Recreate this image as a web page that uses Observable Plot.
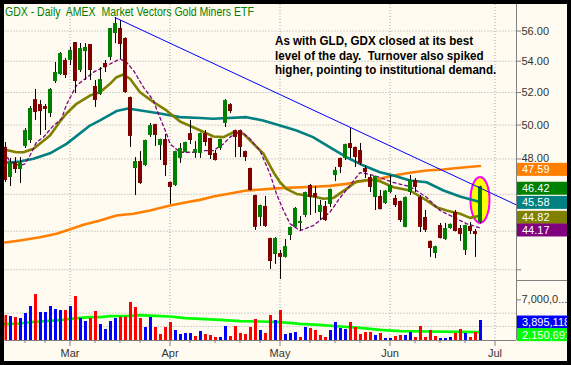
<!DOCTYPE html>
<html><head><meta charset="utf-8">
<script src="https://cdn.jsdelivr.net/npm/d3@7"></script>
<script src="https://cdn.jsdelivr.net/npm/@observablehq/plot@0.6"></script>
<style>
html,body{margin:0;padding:0;background:#fffbf0;}
#wrap{position:relative;width:571px;height:365px;background:#fffbf0;overflow:hidden;font-family:"Liberation Sans",Arial,sans-serif;}
#wrap svg{position:absolute;left:0;}
#frame{position:absolute;left:0;top:0;width:571px;height:365px;box-sizing:border-box;border:4px solid #000;pointer-events:none;}
#title{position:absolute;left:5px;top:6px;font:12px/12px "Liberation Sans",Arial,sans-serif;color:#008000;white-space:pre;transform:scaleX(0.876);transform-origin:0 0;}
#note{position:absolute;left:275px;top:34px;font:bold 12.5px/14.5px "Liberation Sans",Arial,sans-serif;color:#000;white-space:pre;transform:scaleX(0.929);transform-origin:0 0;}
</style></head>
<body><div id="wrap"></div>
<script>
// ---- data (trading-day index 0..95) ----
const open  = [48.67,46.94,47.79,47.39,48.73,49.08,51.56,51.25,51.13,50.70, 52.69,53.14,54.05,54.05,55.23,53.40,54.63,55.10,52.38,51.88, 53.85,54.24,55.83,56.17,55.50,51.69,47.45,47.85,47.62,49.38, 50.03,48.78,49.14,46.66,46.49,48.03,48.37,49.49,48.32,48.32, 49.49,49.20,48.32,48.61,50.10,51.25,49.67,49.67,48.43,47.45, 45.93,44.73,45.33,43.61,42.78,42.83,42.63,43.77,44.20,44.41, 44.84,46.49,46.04,45.00,45.33,45.44,47.05,48.03,48.03,48.90, 48.67,48.49,47.45,46.94,45.82,45.88,45.49,46.10,45.77,45.60, 44.20,46.10,46.77,45.82,44.73,43.46,42.83,44.30,43.56,44.14, 45.00,44.14,42.99,44.25,43.98,44.46];
const high  = [48.96,48.03,48.08,48.08,49.79,51.13,52.19,51.50,51.25,52.25, 53.92,54.57,54.18,54.90,55.23,55.16,55.16,55.10,52.76,53.59, 54.05,56.17,56.92,56.71,55.55,51.72,48.08,48.43,49.10,50.10, 50.05,49.16,49.44,46.68,48.45,48.90,48.98,50.28,49.02,49.52, 49.67,49.22,48.49,49.16,51.56,51.31,49.70,49.70,48.45,47.47, 45.95,45.40,45.88,43.63,43.66,42.99,43.56,44.22,45.27,44.78, 46.12,46.55,46.43,45.66,45.60,46.29,47.51,48.05,48.86,49.85, 48.69,48.90,47.62,47.05,47.02,46.21,46.21,47.05,45.93,45.62, 45.85,47.05,46.88,45.93,45.11,43.48,43.21,44.41,44.41,44.38, 45.11,44.30,44.32,44.46,44.09,46.45];
const low   = [46.66,46.43,47.17,46.60,48.61,48.90,50.28,49.38,49.67,50.46, 52.57,53.08,52.89,53.72,51.94,53.27,52.76,52.76,51.07,51.81, 53.27,54.05,55.16,54.11,51.95,48.67,45.93,46.55,47.56,49.26, 48.73,47.91,47.00,45.44,46.43,47.74,48.35,48.84,48.03,48.03, 48.73,47.97,47.88,48.49,49.85,50.70,48.08,48.08,47.85,46.18, 44.04,44.25,44.20,42.01,42.27,41.51,42.60,43.51,44.18,44.04, 44.73,44.84,44.95,44.57,44.52,45.27,46.71,47.17,47.91,48.03, 47.51,47.62,46.88,46.10,45.11,45.14,45.44,46.04,45.27,44.46, 44.18,45.93,46.10,43.93,43.93,42.63,42.57,43.59,43.51,44.10, 43.96,43.46,42.73,43.82,42.63,44.40];
const close = [46.77,47.79,47.39,47.79,49.67,51.01,50.76,50.82,50.95,52.19, 53.27,54.50,53.08,54.70,52.69,54.83,54.90,53.40,51.50,52.82, 53.59,56.17,56.51,55.10,52.00,49.32,47.85,46.60,49.08,49.97, 49.38,49.14,47.62,46.38,48.43,48.61,48.96,49.08,48.55,49.49, 48.96,48.20,47.91,49.14,51.50,50.82,49.26,48.67,48.08,46.21, 44.20,45.38,44.25,42.42,43.61,42.63,43.19,44.20,45.22,44.52, 46.10,45.82,45.82,45.38,44.57,46.27,47.34,47.51,48.84,48.61, 48.08,47.74,47.22,46.38,47.00,45.16,46.18,46.49,45.38,44.57, 45.82,46.77,46.38,44.20,44.04,43.09,43.19,43.61,44.14,44.36, 43.98,43.82,44.30,43.98,43.82,46.42];
const volume = [4650000,4500000,4350000,4200000,4950000,6000000,7800000,5100000,5100000,6000000, 5550000,5400000,5400000,6000000,7500000,4200000,3750000,4200000,5250000,3300000, 2550000,3750000,4200000,4400000,4400000,6600000,5850000,4200000,2850000,4350000, 2850000,1800000,2850000,3600000,2400000,1800000,1950000,1950000,1500000,2250000, 1800000,1650000,1350000,1350000,3000000,1500000,3000000,1950000,1800000,2850000, 4050000,2400000,1950000,4650000,3900000,5400000,1800000,1950000,2100000,1350000, 2850000,2700000,2400000,1650000,1350000,2400000,3600000,2700000,2550000,3600000, 2850000,1800000,2100000,2100000,1650000,1950000,1200000,1200000,1500000,1650000, 1650000,2100000,1350000,3000000,1350000,2400000,1500000,1200000,1200000,1350000, 1950000,2550000,1950000,1350000,2100000,3895118];
const volUp = [0,1,0,1,1,1,0,1,1,1, 1,1,0,1,0,1,1,0,0,1, 1,1,1,0,0,0,0,0,1,1, 0,0,0,0,1,1,1,1,0,1, 0,0,0,1,1,0,0,0,0,0, 0,1,0,0,1,0,1,1,1,0, 1,0,0,0,0,1,1,1,1,0, 0,0,0,0,1,0,1,1,0,0, 1,1,0,0,0,0,0,1,1,1, 0,0,1,0,0,1];

// moving averages (index, value)
const ma200Idx = [0,3,7,10.3,12.3,15.7,19,22.3,25.7,29,33,36.3,39,41.7,48.3,55,61.7,65,68.3,71,75,77.7,81,84.3,87.6,91,95];
const ma200    = [43.40,43.51,43.68,43.86,44.04,44.34,44.57,44.84,44.93,45.11,45.38,45.56,45.69,45.88,46.21,46.34,46.42,46.47,46.58,46.71,46.87,47.05,47.21,47.34,47.39,47.49,47.59];
const ma50Idx  = [0,3,5.7,9,12.3,17,19,22.3,24.6,31,35,39,41.6,48.3,51.6,55,58.3,61.6,65,68.3,71.7,75,77.7,81,84.3,87.7,91,95];
const ma50     = [47.78,47.85,48.01,48.33,48.88,49.97,50.28,50.85,51.01,50.70,50.48,50.43,50.38,50.48,50.28,49.97,49.67,49.28,48.68,48.10,47.62,47.24,47.05,46.77,46.67,46.21,45.88,45.58];
const ma20Idx  = [0,2.3,3.7,5.7,9,11,12.3,14.3,17,19,21,22.3,23.7,25,27,29.7,32.3,35,38.3,41.7,43.7,45.7,47.7,49.7,51.7,53.7,55,56.3,58.3,61.7,63.7,65.7,68.3,70.3,73,75,77.7,81,84.3,86.3,88.3,91,93,95];
const ma20     = [48.53,48.39,48.39,48.59,49.38,50.22,50.70,51.30,51.81,52.02,52.55,52.97,53.14,52.87,52.02,51.40,50.89,50.22,49.78,49.32,49.28,49.57,49.48,48.88,48.30,47.24,46.67,46.30,46.02,45.88,45.75,45.80,46.30,46.71,46.81,46.73,46.39,46.21,45.66,45.29,45.11,44.93,44.71,44.82];
const ma10Idx  = [0,1,3,4,5,6.3,7.7,9.7,11.3,12.3,14.3,17.7,19.7,21.7,23,24.3,25.7,27.7,29.7,30.4,32.3,33,35,37.7,39.7,41.7,43.7,45,47,49,51,53,54.3,55.7,57,59,61.7,65,67,69,71,73,75,77.6,81,84.3,87,89.7,92.3,95];
const ma10     = [48.39,47.81,47.62,47.72,48.20,48.98,49.28,49.97,50.38,51.25,52.44,53.29,53.61,53.93,54.15,53.93,53.40,52.33,51.50,50.89,49.50,48.88,48.39,48.39,48.49,48.49,48.88,49.28,49.67,49.18,48.49,47.15,46.02,45.11,44.40,44.03,44.30,45.02,45.80,46.49,47.22,47.11,46.94,46.66,46.43,45.84,45.11,44.75,44.40,44.17];
const volMaIdx = [0,3,5,7,9,11,13,15,17,19,21,25,27,30,33,36,39,43,47,51,55,59,63,67,71,75,79,85,91,95];
const volMa    = [3350000,3450000,3650000,3750000,3850000,3950000,4150000,4300000,4400000,4400000,4550000,4600000,4700000,4600000,4500000,4250000,4150000,4000000,3800000,3750000,3650000,3400000,3250000,3000000,2800000,2500000,2300000,2250000,2200000,2150691];

// trendline anchor points and highlight
const trendIdx = [22, 102.3];
const trendVal = [56.92, 45.41];
const highlightIdx = 95, highlightVal = 45.66;

// axes / labels
const priceTicks = [56,54,52,50,48,46,44,42];
const priceLabels = ["56.00","54.00","52.00","50.00","48.00","","",""];
const priceGrid  = [56,54,52,50,48,46,44,42];
const monthIdx   = [13,33,55,77,98];
const monthNames = ["Mar","Apr","May","Jun","Jul"];
const minorIdx   = [4,8,18,23,27,37,42,47,51,61,66,71,82,87,92];
const volGrid    = [5000000,3000000];
const volTicks   = [7000000];
const volTickLabels = ["7,000,0..."];
const lastPrice  = [47.59,46.42,45.58,44.82,44.17];
const lastPriceColors = ["#ff8000","#008000","#008080","#808000","#800080"];
const lastVol    = [3895118,2150691];
const lastVolColors = ["#0000ff","#00ff00"];

// ---- build rows ----
const bars = open.map((o,i)=>({i, o, h:high[i], l:low[i], c:close[i]}));
const upBars = bars.filter(d=>d.c>=d.o), dnBars = bars.filter(d=>d.c<d.o);
const vrows = volume.map((v,i)=>({i, v, up:volUp[i]}));
const pts = (xs, ys) => xs.map((x,k)=>({i:x, p:ys[k]}));
const xDomain = [0, 102.3];
const gridColor = "#a8a8a8";
const font = "'Liberation Sans', Arial, sans-serif";

// label boxes on the right axis (nudges keep the stacked boxes apart)
function valueBoxes(vals, colors, fmt, nudges) {
  return (index, scales, values, dims) => {
    const g = d3.create("svg:g").attr("text-anchor", "start");
    const x0 = dims.width - dims.marginRight + 1;
    vals.forEach((v,k) => {
      const cy = scales.y(v) + nudges[k];
      g.append("rect").attr("x", x0).attr("y", cy-6.5).attr("width", dims.marginRight).attr("height", 13).attr("fill", colors[k]);
      g.append("text").attr("x", x0+5).attr("y", cy+4).attr("text-anchor", "start").attr("fill", "#fff")
        .attr("font-size", 11).attr("font-family", font).text(fmt(v));
    });
    return g.node();
  };
}

const price = Plot.plot({
  width: 571, height: 281,
  marginLeft: 4.5, marginRight: 55, marginTop: 4, marginBottom: 1,
  style: {background: "transparent", fontFamily: font, fontSize: "11px", overflow: "visible"},
  x: {domain: xDomain, axis: null},
  y: {type: "log", domain: [41.46, 57.82], axis: null},
  marks: [
    Plot.ruleY(priceGrid, {stroke: gridColor, strokeDasharray: "1,2"}),
    Plot.ruleX(monthIdx, {stroke: gridColor, strokeDasharray: "1,2"}),
    Plot.axisY(priceTicks, {anchor: "right", tickSize: 4, tickPadding: 1, label: null, stroke: "#808080", fill: "#333", fontSize: 11,
      tickFormat: d => priceLabels[priceTicks.indexOf(d)]}),
    (index, scales) => d3.create("svg:ellipse")
        .attr("cx", scales.x(highlightIdx) + 0.5).attr("cy", scales.y(highlightVal))
        .attr("rx", 9.5).attr("ry", 23).attr("fill", "#ffff00").attr("stroke", "#ff00ff").attr("stroke-width", 2).node(),
    Plot.line(pts(ma200Idx, ma200), {x: "i", y: "p", stroke: "#ff8000", strokeWidth: 2.6}),
    Plot.line(pts(ma50Idx, ma50), {x: "i", y: "p", stroke: "#008080", strokeWidth: 2.6}),
    Plot.line(pts(ma20Idx, ma20), {x: "i", y: "p", stroke: "#808000", strokeWidth: 2.6}),
    Plot.line(pts(ma10Idx, ma10), {x: "i", y: "p", stroke: "#800080", strokeWidth: 1.3, strokeDasharray: "3,3"}),
    Plot.ruleX(bars, {x: "i", y1: "l", y2: "h", stroke: "#000", strokeWidth: 1, dx: 0.5}),
    Plot.ruleX(upBars, {x: "i", y1: "o", y2: "c", stroke: "#008000", strokeWidth: 4}),
    Plot.ruleX(dnBars, {x: "i", y1: "o", y2: "c", stroke: "#800000", strokeWidth: 4}),
    Plot.line(pts(trendIdx, trendVal), {x: "i", y: "p", stroke: "#0000ff", strokeWidth: 1}),
    Plot.ruleX([xDomain[1]], {stroke: "#808080"}),
    valueBoxes(lastPrice, lastPriceColors, v => v.toFixed(2), [3.8, 2, 1, 2, 2.5])
  ]
});
price.style.top = "0px";

const vol = Plot.plot({
  width: 571, height: 85,
  marginLeft: 4.5, marginRight: 55, marginTop: 0, marginBottom: 25,
  style: {background: "transparent", fontFamily: font, fontSize: "11px", overflow: "visible"},
  x: {domain: xDomain},
  y: {domain: [900000, 9900000]},
  marks: [
    Plot.ruleY(volGrid, {stroke: gridColor, strokeDasharray: "1,2"}),
    Plot.ruleX(monthIdx, {stroke: gridColor, strokeDasharray: "1,2"}),
    Plot.line(volMaIdx.map((x,k)=>({i:x, v:volMa[k]})), {x: "i", y: "v", stroke: "#00ff00", strokeWidth: 2.6}),
    Plot.ruleX(vrows.filter(d=>d.up), {x: "i", y1: 0, y2: "v", stroke: "#0000ff", strokeWidth: 3, dx: 0.5, clip: true}),
    Plot.ruleX(vrows.filter(d=>!d.up), {x: "i", y1: 0, y2: "v", stroke: "#ff0000", strokeWidth: 3, dx: 0.5, clip: true}),
    Plot.ruleY([900000], {stroke: "#808080"}),
    Plot.ruleX([xDomain[1]], {stroke: "#808080"}),
    Plot.axisX(minorIdx, {tickSize: 3, tickFormat: () => "", stroke: "#808080", label: null}),
    Plot.axisX(monthIdx, {tickSize: 6, tickPadding: 3, stroke: "#808080", fill: "#333", fontSize: 11, label: null,
      tickFormat: d => monthNames[monthIdx.indexOf(d)]}),
    Plot.axisY(volTicks, {anchor: "right", tickSize: 4, tickPadding: 1, label: null, stroke: "#808080", fill: "#333", fontSize: 11,
      tickFormat: d => volTickLabels[volTicks.indexOf(d)]}),
    (index, scales, values, dims) => d3.create("svg:line")
        .attr("x1", dims.width - dims.marginRight).attr("x2", dims.width)
        .attr("y1", dims.marginTop + 0.5).attr("y2", dims.marginTop + 0.5)
        .attr("stroke", "#808080").node(),
    valueBoxes(lastVol, lastVolColors, d3.format(","), [2, 3])
  ]
});
vol.style.top = "280px";

const wrap = document.getElementById("wrap");
wrap.appendChild(price);
wrap.appendChild(vol);
const t = document.createElement("div"); t.id = "title";
t.textContent = "GDX - Daily  AMEX  Market Vectors Gold Miners ETF";
wrap.appendChild(t);
const n = document.createElement("div"); n.id = "note";
n.textContent = "As with GLD, GDX closed at its best\nlevel of the day.  Turnover also spiked\nhigher, pointing to institutional demand.";
wrap.appendChild(n);
const f = document.createElement("div"); f.id = "frame";
wrap.appendChild(f);
</script>
</body></html>
